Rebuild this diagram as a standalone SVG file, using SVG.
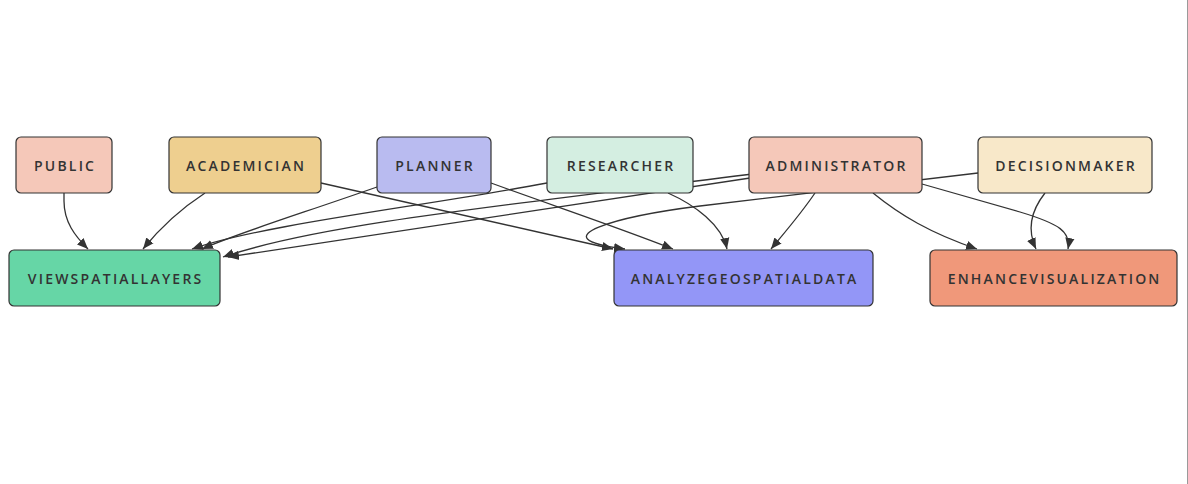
<svg xmlns="http://www.w3.org/2000/svg" width="1188" height="484" viewBox="0 0 1188 484">
<style>
.node rect{stroke:#333;stroke-width:1.2}
.node text{font-family:"Open Sans","DejaVu Sans",sans-serif;font-weight:600;font-size:14px;letter-spacing:2.2px;fill:#333;text-anchor:middle;dominant-baseline:central}
.edges path{fill:none;stroke:#333;stroke-width:1.3;marker-end:url(#arrow)}
</style>
<defs>
<marker id="arrow" viewBox="0 0 10 10" refX="10" refY="5" markerWidth="11" markerHeight="11" markerUnits="userSpaceOnUse" orient="auto">
<path d="M0,0.8 L10,5 L0,9.2 z" fill="#333"/>
</marker>
</defs>
<rect width="1188" height="484" fill="#fff"/>
<line x1="1187.5" y1="0" x2="1187.5" y2="484" stroke="#9a9a9a" stroke-width="1"/>
<g id="edges" class="edges">
<path d="M64,193 L64,201 C64,222 75,236 88,249"/>
<path d="M205,193 C182,208 160,228 143,249"/>
<path d="M321,183 L613,249"/>
<path d="M377,187 C300,214 235,234 202,249"/>
<path d="M491,183 C560,208 620,228 673,249"/>
<path d="M547,183 C420,207 265,224 192,249"/>
<path d="M668,193 C695,205 722,225 727,249"/>
<path d="M760,173 C500,206 320,224 223,257"/>
<path d="M760,176.5 L228,257"/>
<path d="M815,193 C800,215 785,232 771,249"/>
<path d="M873,193 C900,215 930,233 977,249"/>
<path d="M922,184 L1020,212 C1060,224 1071,232 1068,249"/>
<path d="M1045,193 C1030,212 1027,230 1036,249"/>
<path d="M978,173 L700,206 C620,216 535,238 625,249"/>
</g>
<g id="PUBLIC" class="node"><rect x="16" y="137" width="96" height="56" rx="5" fill="#f5c8b9"/><text x="65.1" y="165">PUBLIC</text></g>
<g id="ACADEMICIAN" class="node"><rect x="169" y="137" width="152" height="56" rx="5" fill="#eecf8f"/><text x="246.1" y="165">ACADEMICIAN</text></g>
<g id="PLANNER" class="node"><rect x="377" y="137" width="114" height="56" rx="5" fill="#b9bbf0"/><text x="435.1" y="165">PLANNER</text></g>
<g id="RESEARCHER" class="node"><rect x="547" y="137" width="146" height="56" rx="5" fill="#d4eee1"/><text x="621.1" y="165">RESEARCHER</text></g>
<g id="ADMINISTRATOR" class="node"><rect x="749" y="137" width="173" height="56" rx="5" fill="#f5c8b9"/><text x="836.6" y="165">ADMINISTRATOR</text></g>
<g id="DECISIONMAKER" class="node"><rect x="978" y="137" width="174" height="56" rx="5" fill="#f8e8c9"/><text x="1066.1" y="165">DECISIONMAKER</text></g>
<g id="VIEWSPATIALLAYERS" class="node"><rect x="9" y="250" width="211" height="56" rx="5" fill="#66d6a6"/><text x="115.6" y="278">VIEWSPATIALLAYERS</text></g>
<g id="ANALYZEGEOSPATIALDATA" class="node"><rect x="614" y="250" width="259" height="56" rx="5" fill="#9396f7"/><text x="744.6" y="278">ANALYZEGEOSPATIALDATA</text></g>
<g id="ENHANCEVISUALIZATION" class="node"><rect x="930" y="250" width="247" height="56" rx="5" fill="#f0987a"/><text x="1054.6" y="278">ENHANCEVISUALIZATION</text></g>
</svg>
